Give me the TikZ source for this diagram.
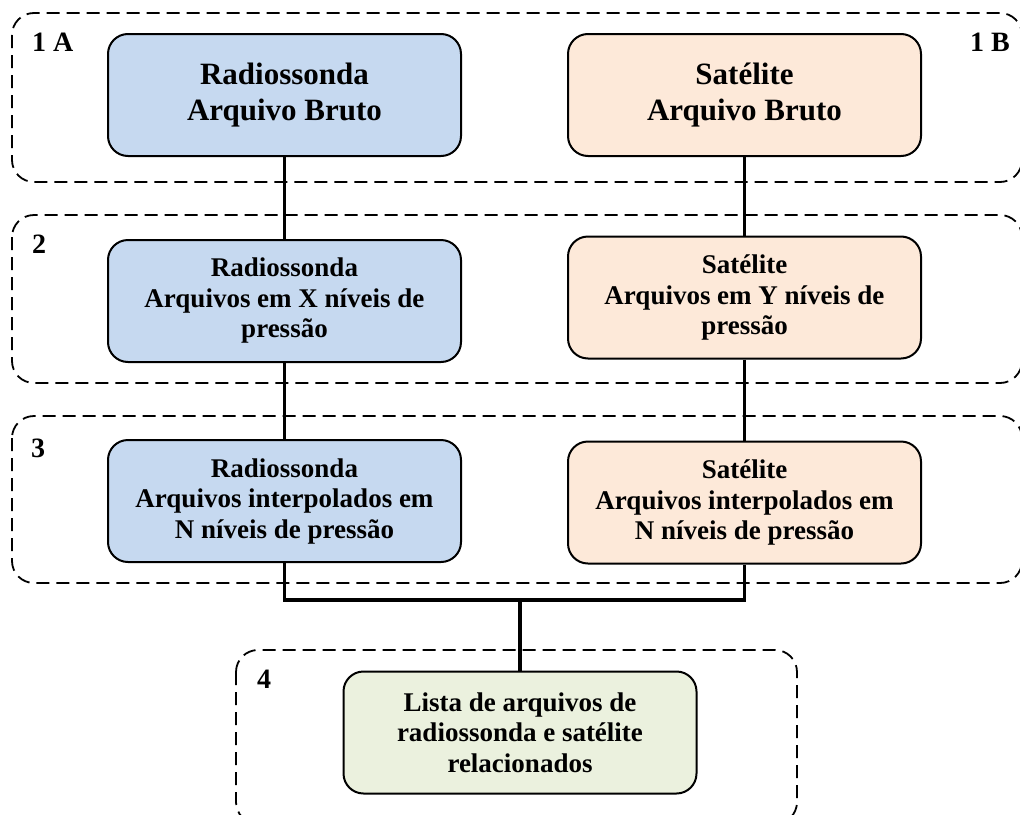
\documentclass[tikz,border=0pt]{standalone}
\usepackage{fontspec}
\setmainfont{Liberation Serif}
\usetikzlibrary{positioning}

\definecolor{rsblue}{HTML}{C6D9F0}
\definecolor{satpeach}{HTML}{FDE9D9}
\definecolor{listgreen}{HTML}{EBF1DE}

\tikzset{
  stagebox/.style={draw=black, line width=1.8pt, dash pattern=on 13pt off 7pt, rounded corners=22pt},
  filebox/.style={draw=black, line width=2pt, rounded corners=20pt, align=center,
    minimum width=353pt, minimum height=122pt, inner sep=0pt, font=\bfseries\fontsize{27}{30.5}\selectfont},
  rawbox/.style={filebox, font=\bfseries\fontsize{31}{36}\selectfont},
  stagelabel/.style={inner sep=0pt, font=\bfseries\fontsize{28}{32}\selectfont},
  link/.style={line width=3.5pt}
}

\begin{document}
\begin{tikzpicture}[x=1pt, y=-1pt]
\clip (0,0) rectangle (1020,814);
\fill[white] (0,0) rectangle (1020,814);
% Stage frames
\draw[stagebox] (12,13) rectangle (1022,182);
\draw[stagebox] (12,215) rectangle (1022,383);
\draw[stagebox] (12,416) rectangle (1022,583);
\draw[stagebox] (236,650) rectangle (797,824);
% Stage labels
\node[stagelabel, anchor=base west] (lab1a) at (32,51) {1 A};
\node[stagelabel, anchor=base east] (lab1b) at (1010,51) {1 B};
\node[stagelabel, anchor=base west] (lab2) at (32,253) {2};
\node[stagelabel, anchor=base west] (lab3) at (31,457) {3};
\node[stagelabel, anchor=base west] (lab4) at (257,688) {4};
% Radiosonde column
\node[rawbox, fill=rsblue] (rs1) at (284.5,95) {Radiossonda\\Arquivo Bruto};
\node[filebox, fill=rsblue] (rs2) at (284.5,301) {Radiossonda\\Arquivos em X níveis de\\pressão};
\node[filebox, fill=rsblue] (rs3) at (284.5,501) {Radiossonda\\Arquivos interpolados em\\N níveis de pressão};
% Satellite column
\node[rawbox, fill=satpeach] (sat1) at (744.5,95) {Satélite\\Arquivo Bruto};
\node[filebox, fill=satpeach] (sat2) at (744.5,297.5) {Satélite\\Arquivos em Y níveis de\\pressão};
\node[filebox, fill=satpeach] (sat3) at (744.5,502.5) {Satélite\\Arquivos interpolados em\\N níveis de pressão};
% Matched list
\node[filebox, fill=listgreen] (list) at (520,732.5) {Lista de arquivos de\\radiossonda e satélite\\relacionados};
% Connectors
\coordinate (join) at (list.north |- 0,600);
\draw[link] (rs1) -- (rs2);
\draw[link] (rs2) -- (rs3);
\draw[link] (sat1) -- (sat2);
\draw[link] (sat2) -- (sat3);
\draw[link] (rs3.south) |- (join) -| (sat3.south);
\draw[link] (join) -- (list.north);
\end{tikzpicture}
\end{document}
